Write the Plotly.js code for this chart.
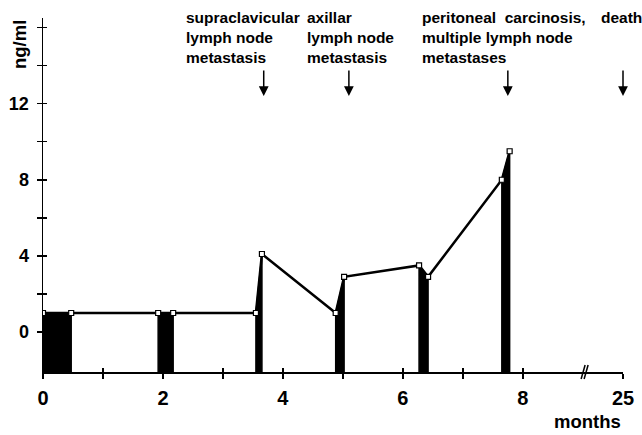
<!DOCTYPE html>
<html>
<head>
<meta charset="utf-8">
<script src="https://cdn.plot.ly/plotly-3.0.1.min.js"></script>
<style>html,body{margin:0;padding:0;background:#fff;}#chart{width:642px;height:435px;}</style>
</head>
<body>
<div id="chart"></div>
<script>
// ---- data ----
const months = [0, 0.47, 1.92, 2.17, 3.55, 3.65, 4.88, 5.02, 6.27, 6.42, 7.65, 7.78];
const values = [1, 1, 1, 1, 1, 4.1, 1, 2.9, 3.5, 2.9, 8.0, 9.5];
const treatStart = [0, 1.92, 3.55, 4.88, 6.27, 7.65];
const treatEnd   = [0.47, 2.17, 3.65, 5.02, 6.42, 7.78];
const eventMonths = [3.68, 5.1, 7.75, 25];
const eventLabels = [
  'supraclavicular<br>lymph node<br>metastasis',
  'axillar<br>lymph node<br>metastasis',
  'peritoneal  carcinosis,<br>multiple lymph node<br>metastases',
  'death'
];
const xTickMonths = [0, 1, 2, 3, 4, 5, 6, 7, 8, 25];
const xTickLabels = ['0', '', '2', '', '4', '', '6', '', '8', '25'];
const yTickVals = [0, 2, 4, 6, 8, 10, 12, 14, 16];
const yTickLabels = ['0', '', '4', '', '8', '', '12', '', ''];

// ---- axis break: months 9 .. 24.33 are collapsed ----
const breakFrom = 9, breakTo = 24.33;
function toAxis(m) { return m <= breakFrom ? m : breakFrom + (m - breakTo); }

const xRange = [0, toAxis(25)];
const yRange = [-2.1, 16.5];
const FONT = 'Liberation Sans, Arial, Helvetica, sans-serif';

// plot area geometry (pixels)
const M = {l: 43, r: 19, t: 18, b: 63};
const plotH = 435 - M.t - M.b;
const plotW = 642 - M.l - M.r;
function pyPaper(px) { return (435 - M.b - px) / plotH; }

function valueAt(m) { return values[months.indexOf(m)]; }

const traces = [];
// treatment periods: black filled areas down to the axis
treatStart.forEach((s, i) => {
  const e = treatEnd[i];
  traces.push({
    type: 'scatter', mode: 'lines',
    x: [toAxis(s), toAxis(s), toAxis(e), toAxis(e)],
    y: [yRange[0], valueAt(s), valueAt(e), yRange[0]],
    fill: 'toself', fillcolor: '#000',
    line: {color: '#000', width: 1.5},
    hoverinfo: 'skip', showlegend: false
  });
});
// concentration line
traces.push({
  type: 'scatter', mode: 'lines+markers',
  x: months.map(toAxis), y: values,
  line: {color: '#000', width: 2.5},
  marker: {symbol: 'square', size: 5, color: '#fff', line: {color: '#000', width: 1.2}},
  showlegend: false
});
// invisible trace to create overlay axes (inside half of the crossing ticks)
traces.push({
  type: 'scatter', mode: 'markers', x: [toAxis(months[0])], y: [values[0]],
  xaxis: 'x2', yaxis: 'y2', marker: {opacity: 0}, hoverinfo: 'skip', showlegend: false
});

const annotations = [];
const textShift = [-80, -44, -88, -24];
eventMonths.forEach((m, i) => {
  annotations.push({
    x: toAxis(m), xref: 'x', y: pyPaper(7), yref: 'paper',
    xanchor: 'left', yanchor: 'top', xshift: textShift[i],
    text: '<b>' + eventLabels[i].split('<br>').join('</b><br><b>') + '</b>',
    showarrow: false, align: 'left',
    font: {family: FONT, size: 15.5, color: '#000'}
  });
  annotations.push({
    x: toAxis(m), xref: 'x', y: pyPaper(96), yref: 'paper',
    ax: 0, ay: -27, axref: 'pixel', ayref: 'pixel',
    text: '', showarrow: true, arrowhead: 2, arrowsize: 1.3, arrowwidth: 1.5,
    arrowcolor: '#000', standoff: 0
  });
});
annotations.push({
  x: (19 - M.l) / plotW, xref: 'paper', y: pyPaper(45), yref: 'paper',
  xanchor: 'center', yanchor: 'middle',
  text: '<b>ng/ml</b>', textangle: -90, showarrow: false,
  font: {family: FONT, size: 18.5, color: '#000'}
});
annotations.push({
  x: 1, xref: 'paper', y: pyPaper(421), yref: 'paper',
  xanchor: 'right', yanchor: 'middle', text: '<b>months</b>', showarrow: false,
  font: {family: FONT, size: 18.5, color: '#000'}
});

const breakPos = toAxis(breakFrom) + 0.03;
const shapes = [-1.5, 1.5].map(dx => ({
  type: 'line', xref: 'x', yref: 'paper',
  xsizemode: 'pixel', xanchor: breakPos, x0: dx - 2, x1: dx + 2,
  ysizemode: 'pixel', yanchor: 0, y0: -7, y1: 7,
  line: {color: '#000', width: 1.5}
}));

const axBase = {
  showgrid: false, zeroline: false, color: '#000',
  tickcolor: '#000', tickwidth: 1.5
};

const layout = {
  width: 642, height: 435,
  margin: M,
  paper_bgcolor: '#fff', plot_bgcolor: '#fff',
  showlegend: false,
  xaxis: Object.assign({}, axBase, {
    range: xRange, tickmode: 'array', tickvals: xTickMonths.map(toAxis),
    ticktext: xTickLabels.map(t => t ? '<b>' + t + '</b>' : ''),
    ticks: 'outside', ticklen: 5, showline: true, linewidth: 1.5, linecolor: '#000',
    tickfont: {family: FONT, size: 20, color: '#000'}, ticklabelstandoff: 2
  }),
  yaxis: Object.assign({}, axBase, {
    range: yRange, tickmode: 'array', tickvals: yTickVals,
    ticktext: yTickLabels.map(t => t ? '<b>' + t + '</b>' : ''),
    ticks: 'outside', ticklen: 5, showline: true, linewidth: 1.5, linecolor: '#000',
    tickfont: {family: FONT, size: 18, color: '#000'}, ticklabelstandoff: 4
  }),
  xaxis2: Object.assign({}, axBase, {
    overlaying: 'x', anchor: 'y2', side: 'bottom', range: xRange,
    tickmode: 'array', tickvals: xTickMonths.map(toAxis), ticks: 'inside', ticklen: 4,
    showticklabels: false, showline: false
  }),
  yaxis2: Object.assign({}, axBase, {
    overlaying: 'y', anchor: 'x2', side: 'left', range: yRange,
    tickmode: 'array', tickvals: yTickVals, ticks: 'inside', ticklen: 4,
    showticklabels: false, showline: false
  }),
  annotations: annotations,
  shapes: shapes
};

Plotly.newPlot('chart', traces, layout, {staticPlot: true, displayModeBar: false});
</script>
</body>
</html>
